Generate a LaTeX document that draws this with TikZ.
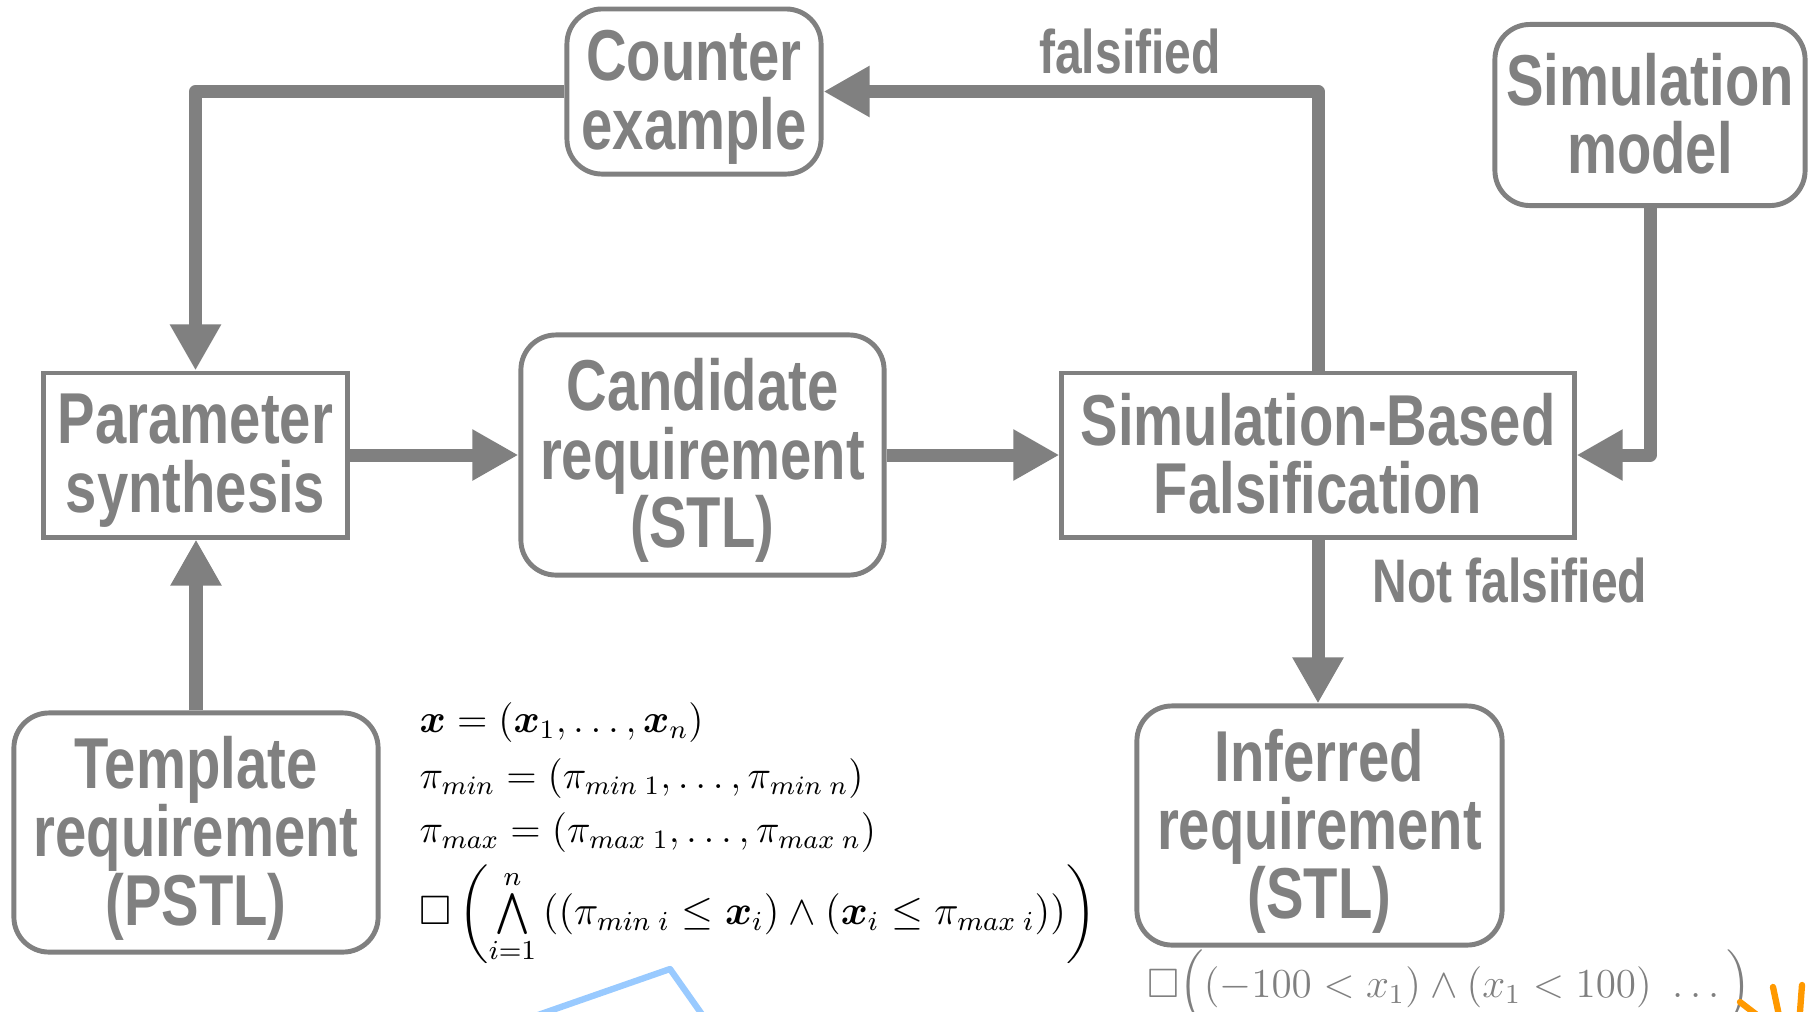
\documentclass[tikz,border=0pt]{standalone}
\usepackage{amsmath,amssymb,bm}
\usepackage{fontspec}
\newfontfamily\boxfont[FakeStretch=0.78]{Liberation Sans}
\newcommand{\fml}[2][0.945]{\scalebox{#1}{$#2$}}
\definecolor{flowgray}{RGB}{128,128,128}
\definecolor{penblue}{RGB}{153,202,255}
\definecolor{penorange}{RGB}{255,153,0}
\usetikzlibrary{arrows.meta}

\begin{document}
\begin{tikzpicture}[x=0.01cm,y=-0.01cm,
    roundbox/.style={draw=flowgray,line width=1.4pt,rounded corners=0.35cm,text=flowgray,align=center,inner sep=0pt,
        text depth=1pt,font=\boxfont\bfseries\fontsize{20.5}{19.5}\selectfont},
    rectbox/.style={roundbox,rounded corners=0pt},
    flow/.style={draw=flowgray,line width=3.7pt,line join=round,-{Triangle[length=0.46cm,width=0.48cm]}},
    flowlabel/.style={text=flowgray,inner sep=0pt,anchor=base,font=\boxfont\bfseries\fontsize{17.5}{19}\selectfont},
    formula/.style={anchor=west,inner sep=0pt,font=\fontsize{12}{14}\selectfont}]
    \useasboundingbox (0,0) rectangle (1814,1011);
    \clip (0,0) rectangle (1814,1011);
    \node[roundbox,minimum width=2.54cm,minimum height=1.65cm] (cex) at (694,91.5) {Counter\\example};
    \node[roundbox,minimum width=3.10cm,minimum height=1.81cm] (simmodel) at (1650,115) {Simulation\\model};
    \node[rectbox,minimum width=3.03cm,minimum height=1.64cm] (param) at (195.5,455) {Parameter\\synthesis};
    \node[roundbox,minimum width=3.63cm,minimum height=2.40cm] (cand) at (702.5,455) {Candidate\\requirement\\(STL)};
    \node[rectbox,minimum width=5.12cm,minimum height=1.64cm] (sbf) at (1318,455) {Simulation-Based\\Falsification};
    \node[roundbox,minimum width=3.64cm,minimum height=2.39cm] (templ) at (196,832.5) {Template\\requirement\\(PSTL)};
    \node[roundbox,minimum width=3.65cm,minimum height=2.39cm] (inferred) at (1319.5,825.5) {Inferred\\requirement\\(STL)};
    \draw[flow] (cex.west) -| (param.north);
    \draw[flow] (sbf.north) |- (cex.east);
    \draw[flow] (simmodel.south) |- (sbf.east);
    \draw[flow] (param) -- (cand);
    \draw[flow] (cand) -- (sbf);
    \draw[flow] (sbf.south) -- (sbf.south |- inferred.north);
    \draw[flow] (templ.north) -- (templ.north |- param.south);
    \node[flowlabel] (lblfals) at (1130,73) {falsified};
    \node[flowlabel] (lblnotfals) at (1510,602) {Not falsified};
    \node[formula] (xdef) at (419,723) {\fml{\bm{x} = (\bm{x}_1,\ldots,\bm{x}_n)}};
    \node[formula] (pmin) at (419,779) {\fml{\pi_{min} = (\pi_{min\;1},\ldots,\pi_{min\;n})}};
    \node[formula] (pmax) at (419,833) {\fml{\pi_{max} = (\pi_{max\;1},\ldots,\pi_{max\;n})}};
    \node[formula] (tmpl) at (419,914) {\fml[0.975]{\Box\left(\bigwedge\limits_{i=1}^{n}\left(\left(\pi_{min\;i}\le\bm{x}_i\right)\wedge\left(\bm{x}_i\le\pi_{max\;i}\right)\right)\right)}};
    \node[inner sep=0pt,text=flowgray,font=\fontsize{12}{14}\selectfont] (inferredf) at (1449,987) {\fml[0.975]{\Box\Big((-100<x_1)\wedge(x_1<100)\ \ldots\Big)}};
    \draw[penblue,line width=1.8pt,line join=round] (495,1030) -- (670,969) -- (713,1030);
    \draw[penorange,line width=1.8pt,line cap=round] (1740,1002) -- (1770,1025);
    \draw[penorange,line width=1.8pt,line cap=round] (1773,987) -- (1781,1025);
    \draw[penorange,line width=1.8pt,line cap=round] (1802,985) -- (1799,1025);
\end{tikzpicture}
\end{document}
